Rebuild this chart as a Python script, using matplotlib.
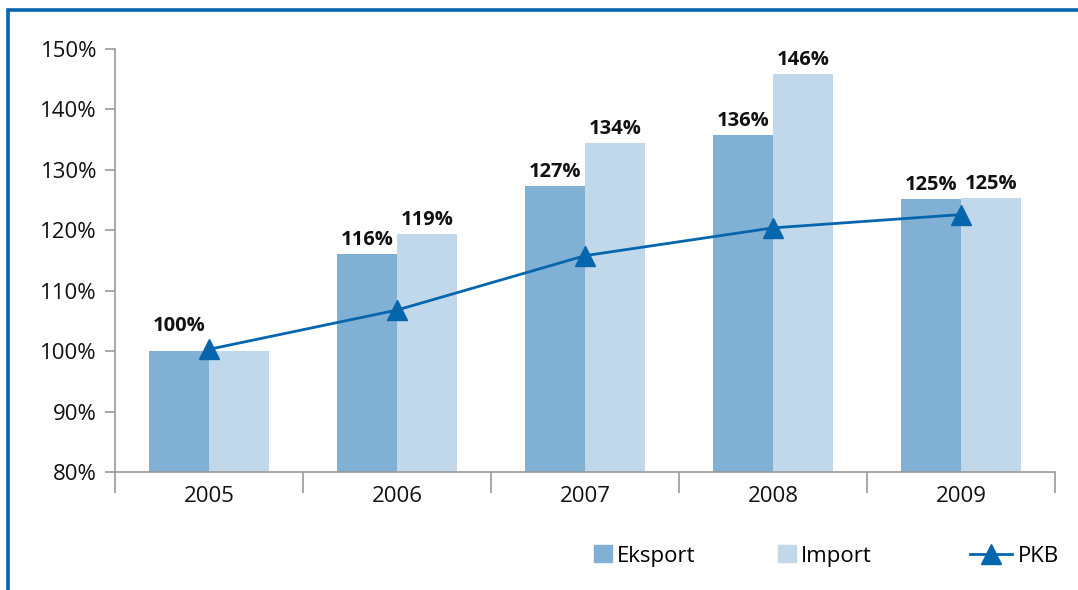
import matplotlib
matplotlib.use("Agg")
import matplotlib.pyplot as plt
from matplotlib.lines import Line2D
from matplotlib.patches import Patch, Rectangle
import numpy as np

years = ["2005", "2006", "2007", "2008", "2009"]
eksport = [100.0, 116.1, 127.3, 135.8, 125.2]
import_ = [100.0, 119.4, 134.4, 145.9, 125.3]
pkb = [100.3, 106.8, 115.8, 120.4, 122.6]
# the base year carries a single shared label
import_labelled = [False, True, True, True, True]
y_ticks = [80, 90, 100, 110, 120, 130, 140, 150]

C_EKS = "#80b1d5"
C_IMP = "#c0d8ea"
C_PKB = "#0565ad"
C_AX = "#9a9a9a"
FONT = "Open Sans"

W, H = 1078, 590
fig = plt.figure(figsize=(W / 100, H / 100), dpi=100)
plt.rcParams["font.family"] = [FONT, "DejaVu Sans"]

# blue frame around the panel (right and bottom edges run off the page)
fig.patches.append(Rectangle((8 / W, -0.05), 1.2, 1 - 10 / H + 0.05,
                             transform=fig.transFigure, fill=False,
                             edgecolor=C_PKB, linewidth=2.6, zorder=0))

ax = fig.add_axes([115 / W, 1 - 472 / H, (1055 - 115) / W, (472 - 49) / H])
x = np.arange(len(years))
bw = 0.32
ax.bar(x - bw / 2, [v - 80 for v in eksport], bw, bottom=80, color=C_EKS, zorder=2)
ax.bar(x + bw / 2, [v - 80 for v in import_], bw, bottom=80, color=C_IMP, zorder=2)
ax.plot(x, pkb, color=C_PKB, linewidth=2.0, marker="^", markersize=15, zorder=4)

def value_label(xi, v, lift=3):
    ax.annotate(f"{v:.0f}%", (xi, v), xytext=(0, lift), textcoords="offset points",
                ha="center", va="bottom", fontsize=14.5, fontweight="bold",
                color="#111111", zorder=5)

for i, (xi, v) in enumerate(zip(x - bw / 2, eksport)):
    # the base-year label sits clear of the PKB marker
    value_label(xi, v, lift=11 if i == 0 else 3)
for xi, v, show in zip(x + bw / 2, import_, import_labelled):
    if show:
        value_label(xi, v)

ax.set_xlim(-0.5, len(years) - 0.5)
ax.set_ylim(80, 150)
ax.set_yticks(y_ticks)
ax.set_yticklabels([f"{t}%" for t in y_ticks])
ax.set_xticks(x)
ax.set_xticklabels(years)
ax.set_xticks(np.arange(len(years) + 1) - 0.5, minor=True)
ax.tick_params(axis="x", which="major", length=0, pad=10, labelsize=16, colors="#111111")
ax.tick_params(axis="x", which="minor", length=15, width=1.2, color=C_AX)
ax.tick_params(axis="y", length=7, width=1.2, color=C_AX, labelsize=16, labelcolor="#111111", pad=6)
for s in ("top", "right"):
    ax.spines[s].set_visible(False)
for s in ("left", "bottom"):
    ax.spines[s].set_color(C_AX)
    ax.spines[s].set_linewidth(1.2)

# legend entries placed individually
common = dict(frameon=False, fontsize=16, handlelength=0.8, handleheight=0.8,
              handletextpad=0.25, borderpad=0, borderaxespad=0, loc="center left")
fig.legend(handles=[Patch(color=C_EKS)], labels=["Eksport"],
           bbox_to_anchor=(594 / W, 1 - 556 / H), **common)
fig.legend(handles=[Patch(color=C_IMP)], labels=["Import"],
           bbox_to_anchor=(778 / W, 1 - 556 / H), **common)
common_l = dict(common)
common_l["handlelength"] = 1.9
fig.legend(handles=[Line2D([], [], color=C_PKB, lw=2.0, marker="^", markersize=15)],
           labels=["PKB"], bbox_to_anchor=(970 / W, 1 - 556 / H), **common_l)

fig.savefig("out.png", dpi=100)
